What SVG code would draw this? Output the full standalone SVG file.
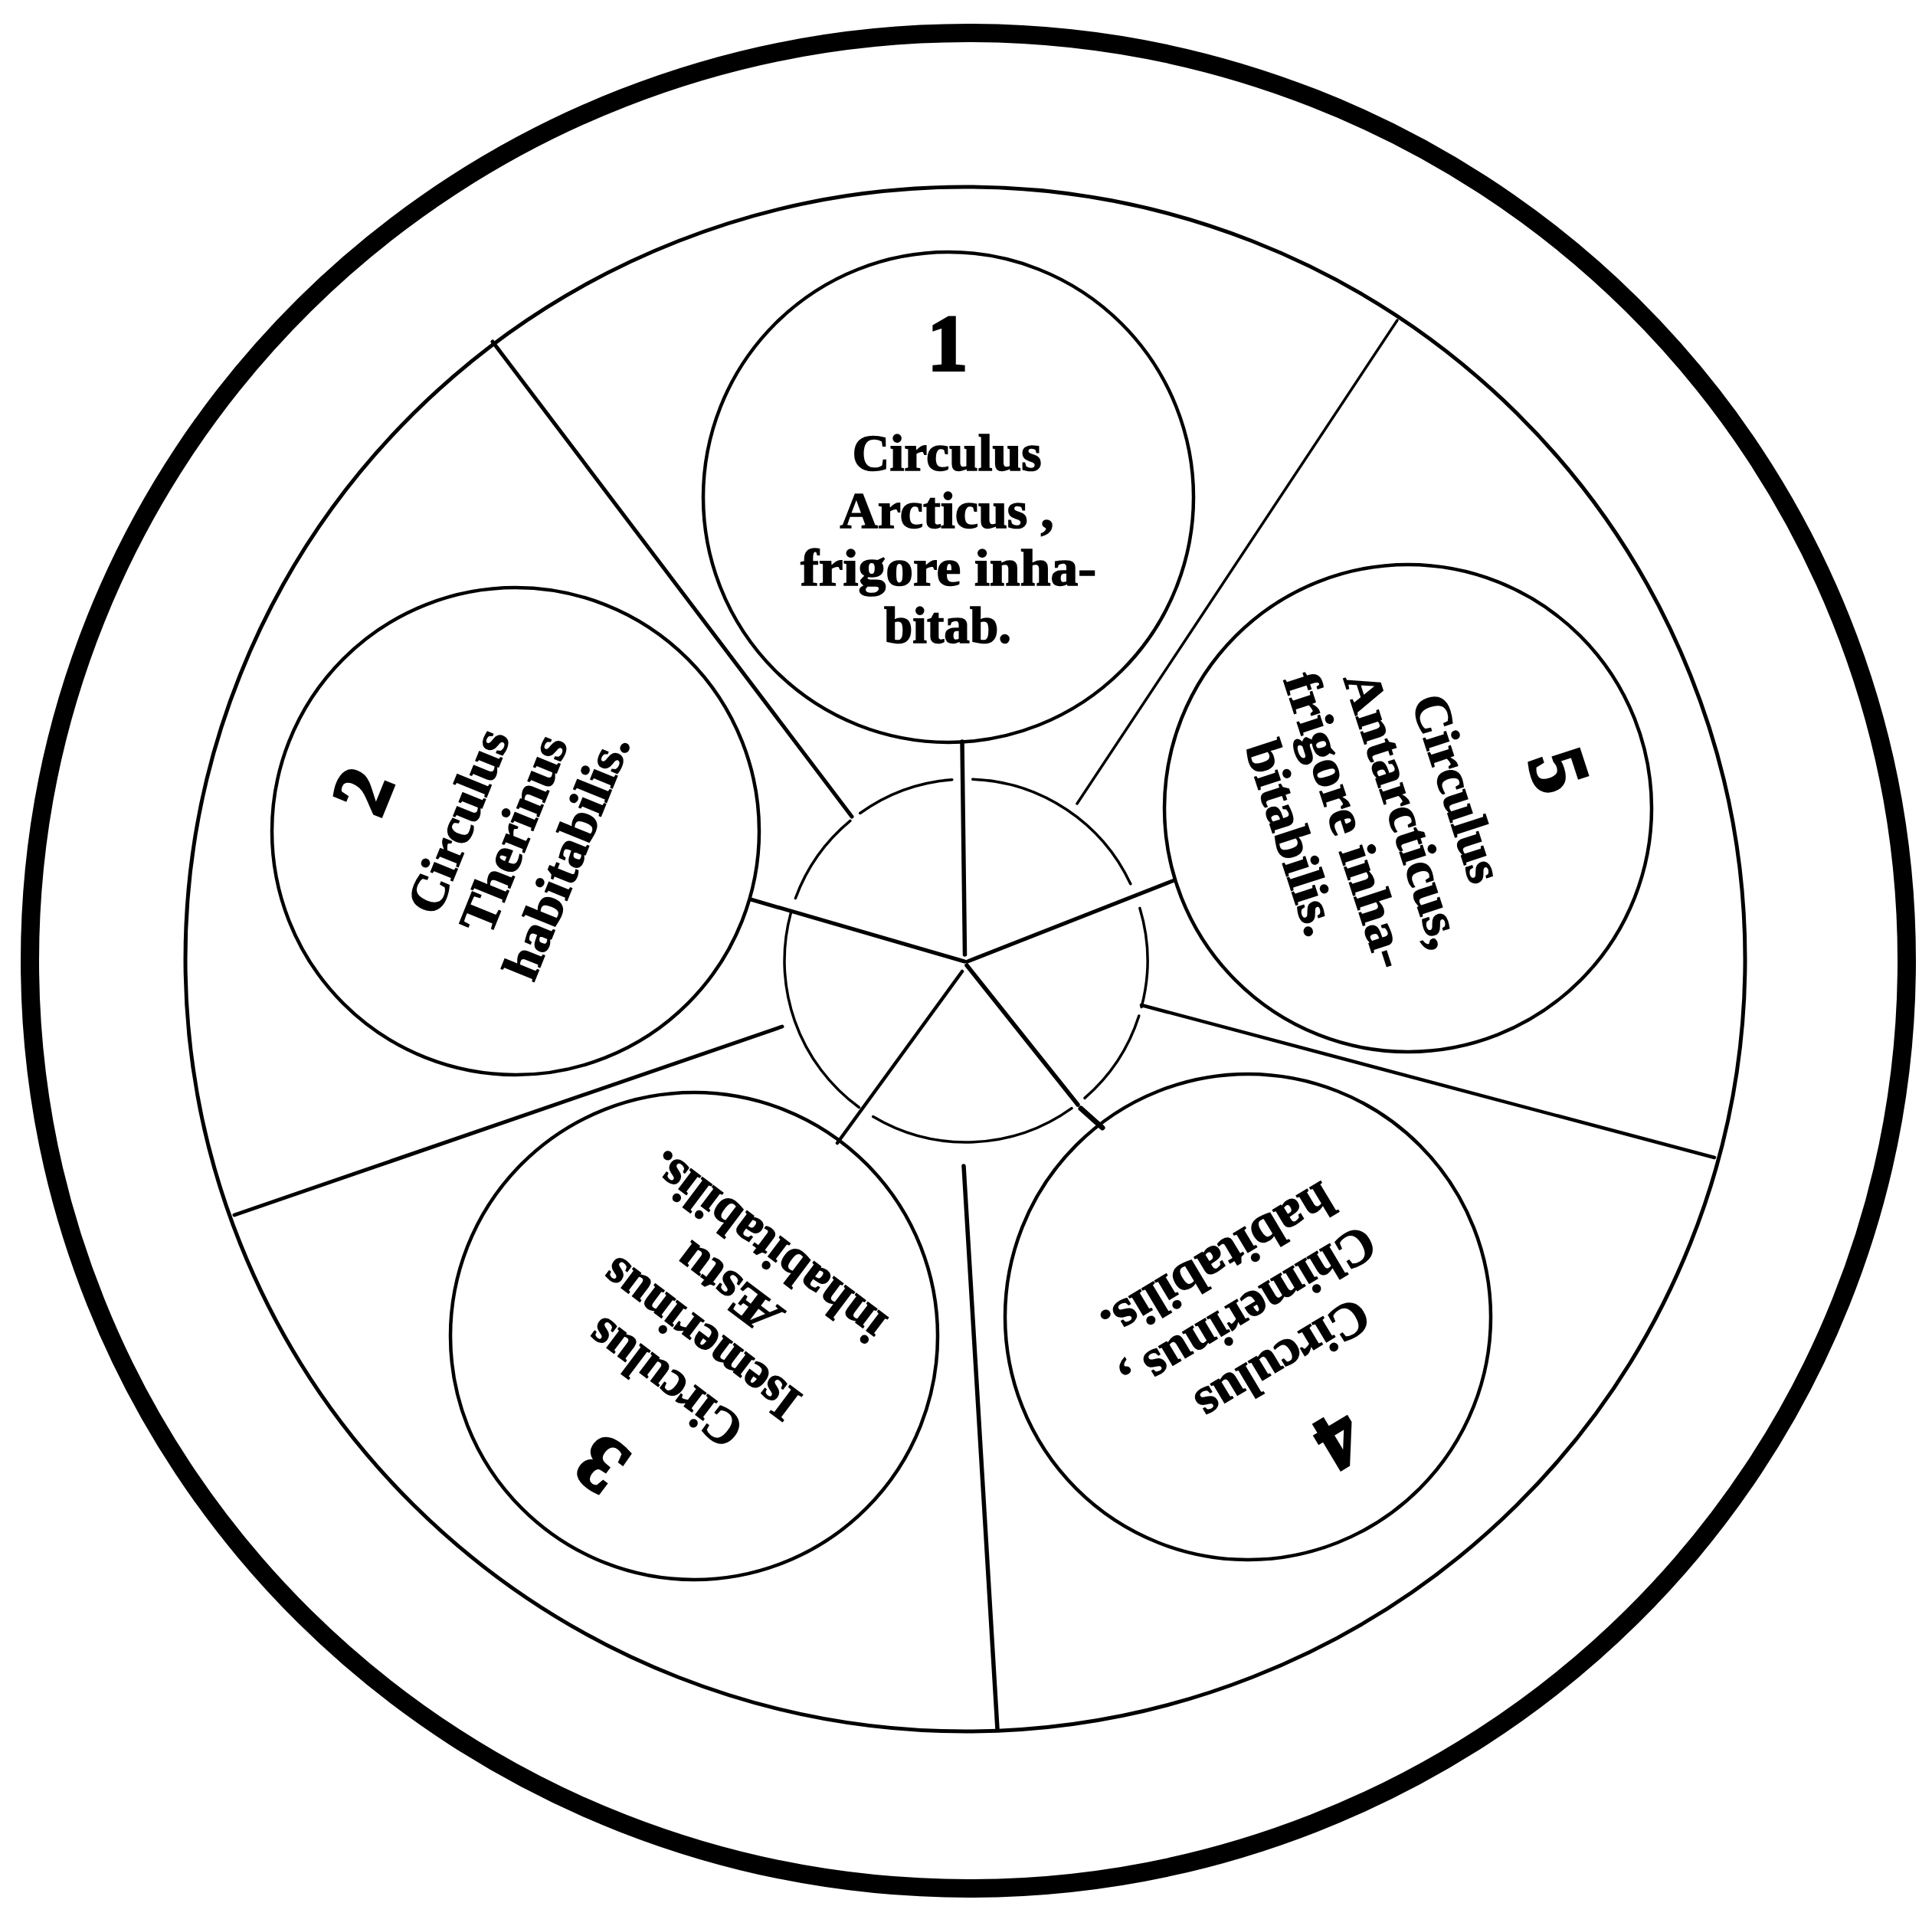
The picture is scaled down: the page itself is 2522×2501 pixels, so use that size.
<svg xmlns="http://www.w3.org/2000/svg" width="2522" height="2501" viewBox="0 0 2522 2501">
<style>
.frame{fill:none;stroke:#000}
.node circle{fill:none;stroke:#000;stroke-width:4.5}
.con line{stroke:#000;stroke-linecap:round}
.hub path{fill:none;stroke:#000;stroke-width:3.5;stroke-linecap:round}
.lbl{font-family:"Liberation Serif","DejaVu Serif",serif;font-weight:bold;font-size:67px;text-anchor:middle;fill:#000;stroke:#000;stroke-width:1.5}
.num{font-family:"Liberation Serif","DejaVu Serif",serif;font-weight:bold;font-size:104px;text-anchor:middle;fill:#000;stroke:#000;stroke-width:4}
</style>
<rect width="2522" height="2501" fill="#fff"/>
<g id="frame">
<ellipse class="frame" cx="1264" cy="1254" rx="1225" ry="1211" stroke-width="24"/>
<ellipse class="frame" cx="1260" cy="1252" rx="1018" ry="1008" stroke-width="5"/>
</g>
<g id="connectors" class="con">
<line x1="1256" y1="968" x2="1259.5" y2="1246" stroke-width="5.5"/>
<line x1="980" y1="1174" x2="1259" y2="1255" stroke-width="5"/>
<line x1="1533" y1="1149" x2="1263" y2="1255" stroke-width="5"/>
<line x1="1256" y1="1268" x2="1093" y2="1492" stroke-width="4.5"/>
<line x1="1262" y1="1260" x2="1407" y2="1442" stroke-width="5.5"/>
<line x1="1411" y1="1447" x2="1439" y2="1472" stroke-width="7"/>
<line x1="643" y1="446" x2="1112" y2="1066" stroke-width="5"/>
<line x1="1824" y1="418" x2="1406" y2="1049" stroke-width="3.5"/>
<line x1="1490" y1="1312" x2="2238" y2="1511" stroke-width="4.5"/>
<line x1="1258" y1="1522" x2="1302" y2="2257" stroke-width="5.5"/>
<line x1="1021" y1="1340" x2="306" y2="1586" stroke-width="5"/>
</g>
<g id="hub" class="hub">
<path d="M1486.8,1326.0 A237,237 0 0 1 1415.9,1433.4"/>
<path d="M1399.0,1446.7 A237,237 0 0 1 1139.7,1457.6"/>
<path d="M1121.4,1445.5 A237,237 0 0 1 1032.3,1191.9"/>
<path d="M1038.4,1172.5 A237,237 0 0 1 1109.9,1071.4"/>
<path d="M1122.7,1061.5 A237,237 0 0 1 1242.8,1017.7"/>
<path d="M1269.7,1017.2 A237,237 0 0 1 1475.8,1153.8"/>
<path d="M1487.9,1185.5 A237,237 0 0 1 1490.1,1314.5"/>
</g>
<g id="node1" class="node">
<circle cx="1238" cy="649" r="320"/>
<g transform="translate(1238,649)">
<text class="num" x="-1" y="-166">1</text>
<text class="lbl" x="-2" y="-35" textLength="247" lengthAdjust="spacingAndGlyphs">Circulus</text>
<text class="lbl" x="-2" y="40" textLength="279" lengthAdjust="spacingAndGlyphs">Arcticus ,</text>
<text class="lbl" x="0" y="115" textLength="386" lengthAdjust="spacingAndGlyphs">frigore inha-</text>
<text class="lbl" x="-1" y="190" textLength="166" lengthAdjust="spacingAndGlyphs">bitab.</text>
</g>
</g>
<g id="node2" class="node">
<circle cx="673" cy="1085" r="318"/>
<g transform="translate(673,1085) rotate(-68)">
<text class="num" x="-26" y="-170">2</text>
<text class="lbl" x="-16" y="-52" textLength="253" lengthAdjust="spacingAndGlyphs">Circulus</text>
<text class="lbl" x="-4" y="21" textLength="272" lengthAdjust="spacingAndGlyphs">Therinus</text>
<text class="lbl" x="-6" y="96" textLength="338" lengthAdjust="spacingAndGlyphs">habitabilis.</text>
</g>
</g>
<g id="node3" class="node">
<circle cx="906" cy="1744" r="318"/>
<g transform="translate(906,1744) rotate(-143)">
<text class="num" x="-4" y="-172">3</text>
<text class="lbl" x="-6" y="-50" textLength="235" lengthAdjust="spacingAndGlyphs">Circulus</text>
<text class="lbl" x="-9" y="24" textLength="305" lengthAdjust="spacingAndGlyphs">Isemerinus</text>
<text class="lbl" x="1" y="98" textLength="156" lengthAdjust="spacingAndGlyphs">Æstu</text>
<text class="lbl" x="-6" y="172" textLength="367" lengthAdjust="spacingAndGlyphs">inhabitabilis.</text>
</g>
</g>
<g id="node4" class="node">
<circle cx="1629" cy="1719" r="317"/>
<g transform="translate(1629,1719) rotate(149)">
<text class="num" x="-19" y="-165">4</text>
<text class="lbl" x="-10" y="-50" textLength="251" lengthAdjust="spacingAndGlyphs">Circulus</text>
<text class="lbl" x="-5" y="27" textLength="372" lengthAdjust="spacingAndGlyphs">Chimerinus ,</text>
<text class="lbl" x="-4" y="103" textLength="341" lengthAdjust="spacingAndGlyphs">habitabilis.</text>
</g>
</g>
<g id="node5" class="node">
<circle cx="1838" cy="1055" r="318"/>
<g transform="translate(1838,1055) rotate(72)">
<text class="num" x="14" y="-168">5</text>
<text class="lbl" x="-5" y="-47" textLength="254" lengthAdjust="spacingAndGlyphs">Circulus</text>
<text class="lbl" x="0" y="28" textLength="375" lengthAdjust="spacingAndGlyphs">Antarcticus,</text>
<text class="lbl" x="-10" y="103" textLength="401" lengthAdjust="spacingAndGlyphs">frigore inha-</text>
<text class="lbl" x="-10" y="178" textLength="263" lengthAdjust="spacingAndGlyphs">bitabilis.</text>
</g>
</g>
</svg>
